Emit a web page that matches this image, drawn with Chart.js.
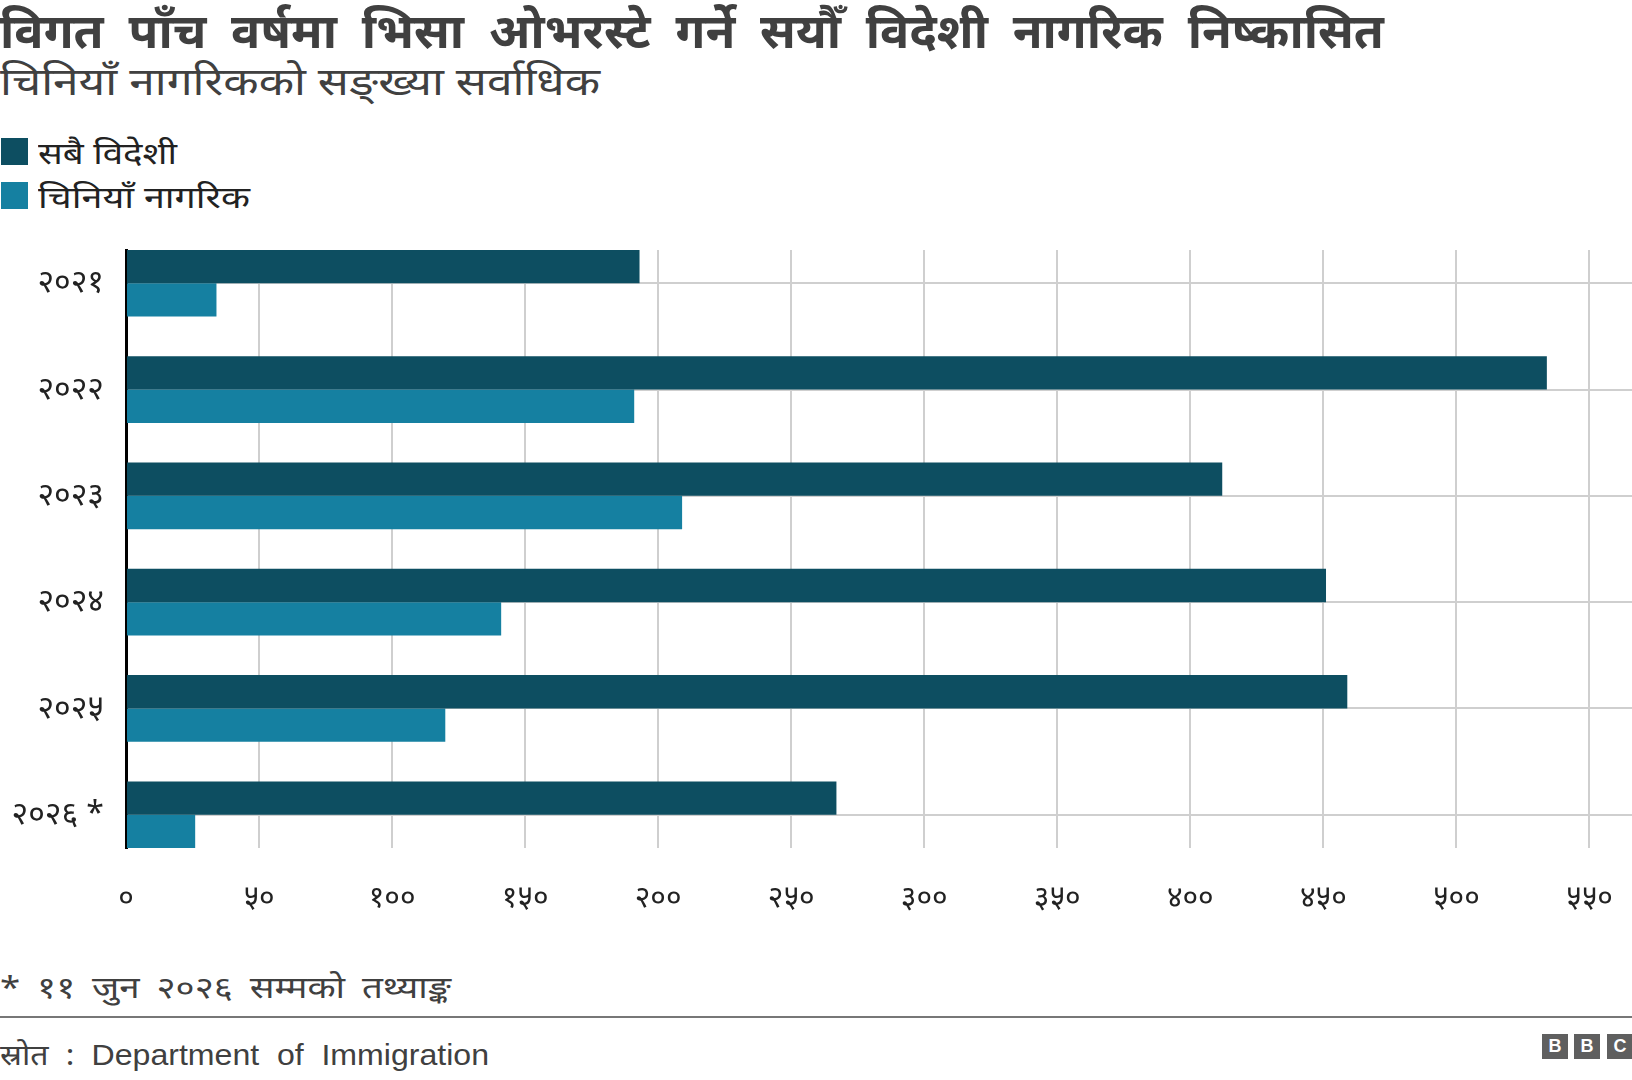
<!DOCTYPE html>
<html lang="ne">
  <head>
    <meta charset="UTF-8" />
    <title>भिसा ओभरस्टे निष्कासन</title>
    <script src="https://cdn.jsdelivr.net/npm/chart.js@4.4.1/dist/chart.umd.min.js"></script>
    <style>
      body { margin: 0; width: 1632px; height: 1080px; background: #fff; position: relative; overflow: hidden;
        font-family: "Noto Sans", "Noto Sans Devanagari", sans-serif; color: #404040; }
      .fit { position: absolute; left: 0; white-space: nowrap; transform-origin: left top; }
      #title { top: 0; margin: 0; font-size: 48px; line-height: 60px; font-weight: 700; word-spacing: 12px; }
      #subtitle { top: 55px; font-size: 39px; line-height: 50px; }
      .swatch { position: absolute; left: 1px; width: 27px; height: 27px; }
      .legend { left: 38px; font-size: 30px; line-height: 40px; color: #222; }
      #chart-wrap { position: absolute; left: 0; top: 230px; width: 1632px; height: 700px; }
      #note { top: 967px; font-size: 30px; line-height: 40px; word-spacing: 6px; }
      #rule { position: absolute; left: 0; top: 1016px; width: 1632px; height: 2px; background: #777; }
      #source { top: 1034px; font-size: 29px; line-height: 40px; word-spacing: 8px; }
      #source .en { font-family: "Liberation Sans", Arial, sans-serif; }
      #bbc { position: absolute; left: 1542px; top: 1034px; white-space: nowrap; }
      #bbc span { position: absolute; top: 0; width: 26px; height: 25px; background: #5f5f5f; color: #fff;
        font: bold 18px/25px "Liberation Sans", Arial, sans-serif; text-align: center; }
    </style>
  </head>
  <body>
    <h1 id="title" class="fit">विगत पाँच वर्षमा भिसा ओभरस्टे गर्ने सयौँ विदेशी नागरिक निष्कासित</h1>
    <div id="subtitle" class="fit">चिनियाँ नागरिकको सङ्ख्या सर्वाधिक</div>
    <div class="swatch" style="top: 138px; background: #0d4e61"></div>
    <div id="legend1" class="fit legend" style="top: 133px">सबै विदेशी</div>
    <div class="swatch" style="top: 182px; background: #1580a1"></div>
    <div id="legend2" class="fit legend" style="top: 177px">चिनियाँ नागरिक</div>
    <div id="chart-wrap"><canvas id="chart"></canvas></div>
    <div id="note" class="fit">* ११ जुन २०२६ सम्मको तथ्याङ्क</div>
    <div id="rule"></div>
    <div id="source" class="fit">स्रोत : <span class="en">Department of Immigration</span></div>
    <div id="bbc"><span style="left: 0">B</span><span style="left: 32px">B</span><span style="left: 65px">C</span></div>
    <script>
      const years = ["२०२१", "२०२२", "२०२३", "२०२४", "२०२५", "२०२६ *"];
      const allForeigners = [193, 534, 412, 451, 459, 267];
      const chineseCitizens = [34, 191, 209, 141, 120, 26];
      const xTicks = [0, 50, 100, 150, 200, 250, 300, 350, 400, 450, 500, 550];

      const devDigits = "०१२३४५६७८९";
      const toDev = (n) => String(n).replace(/[0-9]/g, (d) => devDigits[d]);

      // stretch header/footer text to the widths seen in the original
      const textWidths = { title: 1384, subtitle: 600, legend1: 139, legend2: 212, note: 451, source: 489 };
      function fitTexts() {
        Object.keys(textWidths).forEach((id) => {
          const el = document.getElementById(id);
          el.style.transform = "none";
          const w = el.getBoundingClientRect().width;
          el.style.transform = `scaleX(${textWidths[id] / w})`;
        });
      }
      fitTexts();
      document.fonts.ready.then(fitTexts);

      Chart.defaults.font.family = '"Noto Sans", "Noto Sans Devanagari", sans-serif';
      Chart.defaults.color = "#222";

      const ctx = document.getElementById("chart").getContext("2d");
      const chart = new Chart(ctx, {
        type: "bar",
        data: {
          datasets: [
            {
              label: "सबै विदेशी",
              data: allForeigners.map((v, i) => ({ x: v, y: i })),
              backgroundColor: "#0d4e61",
            },
            {
              label: "चिनियाँ नागरिक",
              data: chineseCitizens.map((v, i) => ({ x: v, y: i })),
              backgroundColor: "#1580a1",
            },
          ],
        },
        options: {
          indexAxis: "y",
          responsive: true,
          maintainAspectRatio: false,
          animation: false,
          categoryPercentage: 0.627,
          barPercentage: 1,
          layout: { padding: { top: 20, right: 0, left: 0, bottom: 0 } },
          plugins: { legend: { display: false }, tooltip: { enabled: false } },
          scales: {
            x: {
              type: "linear",
              min: 0,
              max: 566,
              afterBuildTicks: (scale) => {
                scale.ticks = xTicks.map((v) => ({ value: v }));
              },
              afterFit: (scale) => {
                scale.height = 82;
                scale.paddingLeft = 0;
                scale.paddingRight = 0;
              },
              grid: { color: "#cfcfcf", lineWidth: 2, drawTicks: false },
              border: { display: false },
              ticks: {
                padding: 32,
                maxRotation: 0,
                font: { size: 30 },
                callback: (v) => toDev(v),
              },
            },
            y: {
              type: "linear",
              reverse: true,
              offset: false,
              min: -0.313,
              max: 5.313,
              afterBuildTicks: (scale) => {
                scale.ticks = years.map((_, i) => ({ value: i }));
              },
              afterFit: (scale) => {
                scale.width = 126;
                scale.paddingTop = 0;
                scale.paddingBottom = 0;
              },
              grid: { color: "#cfcfcf", lineWidth: 2, drawTicks: false, offset: false },
              border: { display: true, color: "#000", width: 3 },
              ticks: {
                padding: 22,
                font: { size: 32 },
                callback: (v) => years[v],
              },
            },
          },
        },
      });
    </script>
  </body>
</html>
